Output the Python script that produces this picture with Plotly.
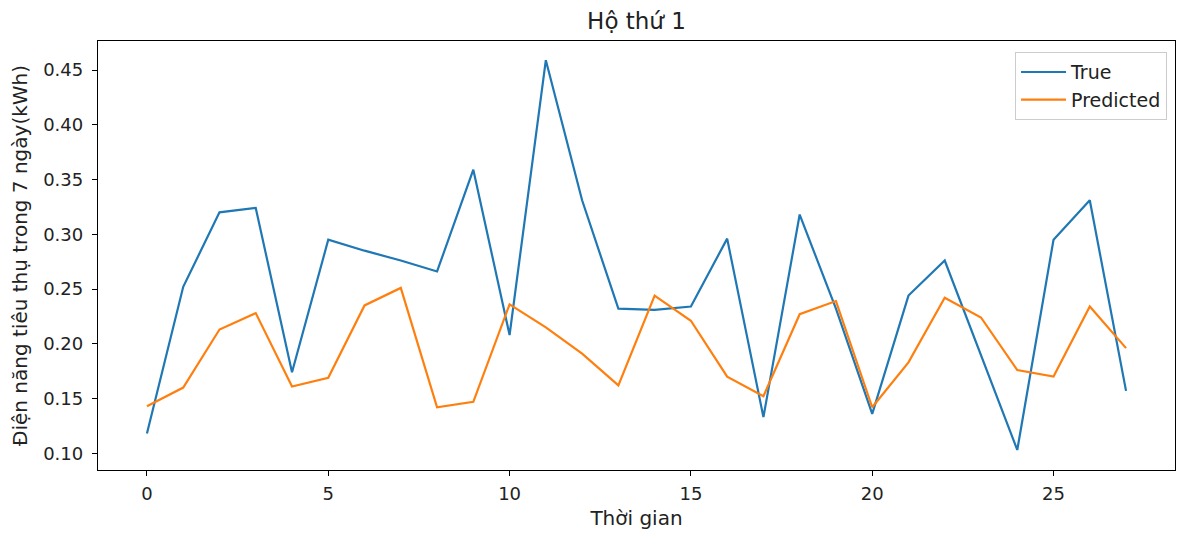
import plotly.graph_objects as go

time_idx = list(range(28))
true_vals = [0.118, 0.252, 0.320, 0.324, 0.174, 0.295, 0.285, 0.276, 0.266, 0.359,
             0.208, 0.459, 0.331, 0.232, 0.231, 0.234, 0.296, 0.133, 0.318, 0.232,
             0.136, 0.244, 0.276, 0.190, 0.103, 0.295, 0.331, 0.157]
pred_vals = [0.143, 0.160, 0.213, 0.228, 0.161, 0.169, 0.235, 0.251, 0.142, 0.147,
             0.236, 0.215, 0.191, 0.162, 0.244, 0.221, 0.170, 0.152, 0.227, 0.239,
             0.142, 0.183, 0.242, 0.224, 0.176, 0.170, 0.234, 0.196]
x_ticks = [0, 5, 10, 15, 20, 25]
y_ticks = [0.10, 0.15, 0.20, 0.25, 0.30, 0.35, 0.40, 0.45]

FONT = "DejaVu Sans"
TXT = "#222"

fig = go.Figure()
fig.add_trace(go.Scatter(x=time_idx, y=true_vals, mode="lines", name="True",
                         line=dict(color="#1f77b4", width=2.2)))
fig.add_trace(go.Scatter(x=time_idx, y=pred_vals, mode="lines", name="Predicted",
                         line=dict(color="#ff7f0e", width=2.2)))

axis_common = dict(showgrid=False, zeroline=False, showline=True, linecolor="black",
                   linewidth=1.3, mirror=True, ticks="outside", ticklen=5, tickwidth=1.2,
                   tickcolor="black", tickfont=dict(family=FONT, size=18, color=TXT))

fig.update_layout(
    width=1177, height=534,
    margin=dict(l=98, r=2, t=41, b=64),
    paper_bgcolor="white", plot_bgcolor="white",
    title=dict(text="Hộ thứ 1", x=0.5 * (98 + 1175) / 1177, xanchor="center",
               y=1 - 21 / 534, yanchor="middle",
               font=dict(family=FONT, size=23, color=TXT)),
    xaxis=dict(range=[-1.35, 28.35], tickvals=x_ticks, ticklabelstandoff=2,
               title=dict(text="Thời gian", font=dict(family=FONT, size=20, color=TXT),
                          standoff=8),
               **axis_common),
    yaxis=dict(range=[0.0847, 0.4765], tickvals=y_ticks, tickformat=".2f",
               ticklabelstandoff=5,
               title=dict(text="Điện năng tiêu thụ trong 7 ngày(kWh)",
                          font=dict(family=FONT, size=20, color=TXT), standoff=10),
               **axis_common),
    legend=dict(x=0.9926, xanchor="right", y=0.974, yanchor="top",
                bgcolor="rgba(255,255,255,0.8)", bordercolor="#cccccc", borderwidth=1,
                itemwidth=45,
                font=dict(family=FONT, size=19, color=TXT)),
    showlegend=True,
)

fig.write_html("out.html")
